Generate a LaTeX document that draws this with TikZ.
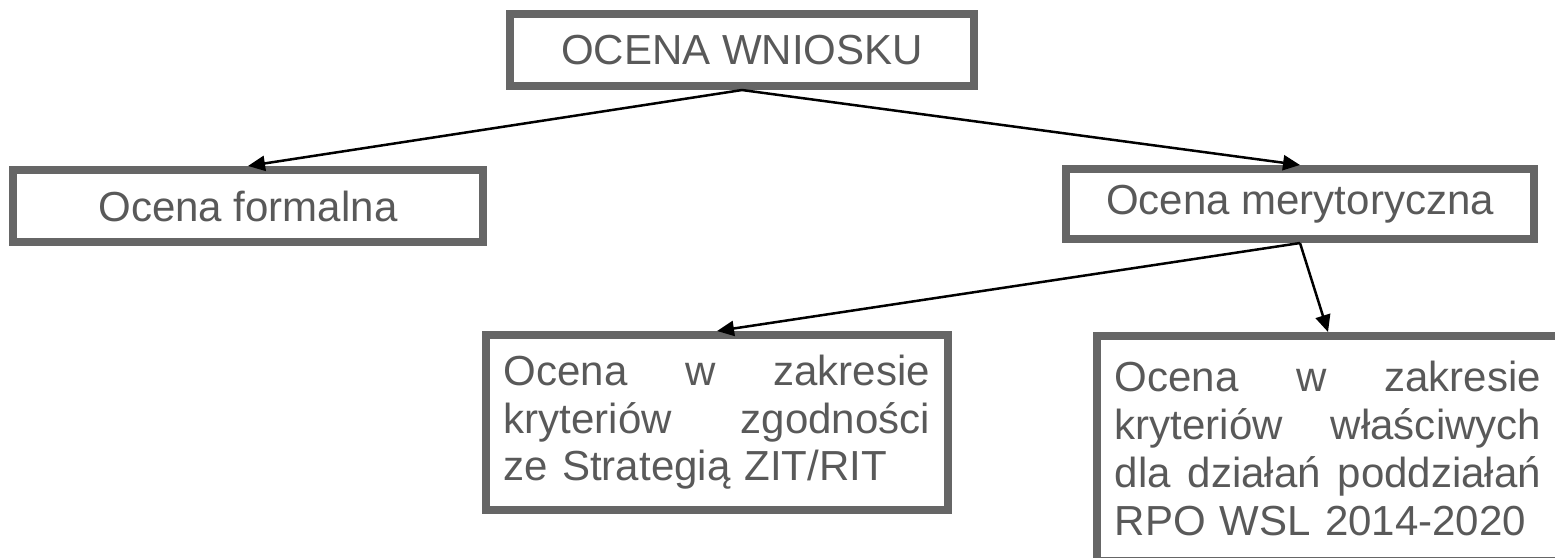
\documentclass[tikz,border=0pt]{standalone}
\usepackage{fontspec}
\setmainfont{Liberation Sans}
\usetikzlibrary{arrows.meta}

\definecolor{framegray}{HTML}{666666}
\definecolor{labelgray}{HTML}{595959}

\tikzset{
  frame/.style={draw=framegray, line width=0.08cm, text=labelgray, inner sep=0pt,
    minimum height=0.72cm, font=\fontsize{11.95pt}{13.58pt}\selectfont},
  textframe/.style={frame, text width=4.26cm, align=left, inner xsep=0.18cm,
    inner ysep=0.2cm, anchor=north},
  link/.style={-{Triangle[length=0.17cm,width=0.15cm]}, line width=0.025cm, black}
}

\begin{document}
\begin{tikzpicture}[x=0.01cm, y=-0.01cm]

            % Page size
            \useasboundingbox (0, 0) rectangle (1555, 557);

            % Level 1
            \node [frame, minimum width=4.64cm] (wniosek) at (742, 50) {OCENA WNIOSKU};

            % Level 2
            \node [frame, minimum width=4.69cm] (formalna) at (248, 206) {Ocena formalna};
            \node [frame, minimum width=4.67cm, minimum height=0.70cm] (merytoryczna) at (1300, 204) {Ocena merytoryczna};

            % Level 3
            \node [textframe] (zgodnosc) at (717, 331)
                {Ocena\hfill w\hfill zakresie\\ kryteriów\hfill zgodności\\ ze Strategią ZIT/RIT};
            \node [textframe, minimum height=2.25cm] (wlasciwe) at (1328, 332)
                {Ocena\hfill w\hfill zakresie\\ kryteriów\hfill właściwych\\ dla\hfill działań\hfill poddziałań\\ RPO WSL 2014-2020};

            %% Links
            \draw [link] (wniosek.south) -- (formalna.north);
            \draw [link] (wniosek.south) -- (merytoryczna.north);
            \draw [link] (merytoryczna.south) -- (zgodnosc.north);
            \draw [link] (merytoryczna.south) -- (wlasciwe.north);
        \end{tikzpicture}
\end{document}
